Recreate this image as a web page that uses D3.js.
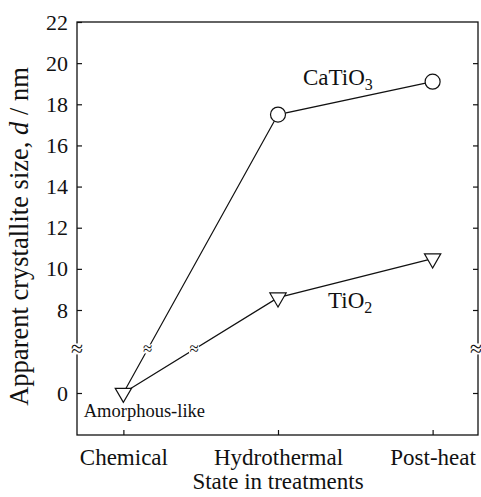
<!DOCTYPE html>
<html>
<head>
<meta charset="utf-8">
<script src="https://cdn.jsdelivr.net/npm/d3@7"></script>
<style>
  body { margin: 0; background: #fff; }
</style>
</head>
<body>
<script>
// treatment stages (x categories)
var stages = ["Chemical", "Hydrothermal", "Post-heat"]
// apparent crystallite size d / nm, 0 = amorphous-like
var catio3Size = [0, 17.5, 19.1]
var tio2Size = [0, 8.6, 10.5]
var yTicks = [0, 8, 10, 12, 14, 16, 18, 20, 22]
var breakAt = 4.2   // where the axis is broken, in data units

var FONT = "'Liberation Serif', 'Times New Roman', Times, serif"
var width = 481, height = 497
var margin = {left: 77, right: 2, top: 22, bottom: 62}

var svg = d3.select("body").append("svg")
	.attr("width", width)
	.attr("height", height)
	.attr("font-family", FONT)

var x = d3.scalePoint()
	.domain(stages)
	.range([margin.left, width - margin.right])
	.padding(0.3)

// broken axis: 0..8 squeezed, 8..22 linear
var y = d3.scaleLinear()
	.domain([0, 8, 22])
	.range([393, 310, margin.top])

var bottomY = height - margin.bottom

// frame
svg.append("rect")
	.attr("x", margin.left)
	.attr("y", margin.top)
	.attr("width", width - margin.left - margin.right - 1)
	.attr("height", bottomY - margin.top)
	.attr("fill", "none")
	.attr("stroke", "#111")
	.attr("stroke-width", 1.3)

var left = svg.append("g")
	.attr("transform", "translate(" + margin.left + ",0)")
	.call(d3.axisLeft(y).tickValues(yTicks).tickSizeInner(-5).tickSizeOuter(0).tickPadding(9))
left.select(".domain").remove()

var right = svg.append("g")
	.attr("transform", "translate(" + (width - margin.right - 1) + ",0)")
	.call(d3.axisRight(y).tickValues(yTicks.slice(0, -1)).tickSizeInner(-5).tickSizeOuter(0).tickFormat(""))
right.select(".domain").remove()

var bottom = svg.append("g")
	.attr("transform", "translate(0," + bottomY + ")")
	.call(d3.axisBottom(x).tickSizeInner(-5).tickSizeOuter(0).tickPadding(14))
bottom.select(".domain").remove()

svg.selectAll("g").attr("font-family", FONT)
left.selectAll("text").attr("font-size", 22).attr("fill", "#111")
bottom.selectAll("text").attr("font-size", 23).attr("fill", "#111")
svg.selectAll(".tick line").attr("stroke", "#111").attr("stroke-width", 1.2)

// axis break marks
var breakY = y(breakAt)
;[margin.left, width - margin.right - 3].forEach(function (bx) {
	svg.append("rect").attr("x", bx - 5).attr("y", breakY - 6).attr("width", 10).attr("height", 11).attr("fill", "#fff")
	svg.append("text").attr("x", bx).attr("y", breakY + 7)
		.attr("text-anchor", "middle").attr("font-size", 22).attr("fill", "#111").text("\u2248")
})

// axis titles
svg.append("text")
	.attr("x", (margin.left + width - margin.right) / 2)
	.attr("y", 489)
	.attr("text-anchor", "middle")
	.attr("font-size", 23)
	.attr("fill", "#111")
	.text("State in treatments")

var yt = svg.append("text")
	.attr("transform", "translate(28," + ((margin.top + bottomY) / 2 + 8) + ") rotate(-90)")
	.attr("text-anchor", "middle")
	.attr("font-size", 26.5)
	.attr("fill", "#111")
yt.append("tspan").text("Apparent crystallite size, ")
yt.append("tspan").attr("font-style", "italic").text("d")
yt.append("tspan").text(" / nm")

// series
var series = [
	{name: "CaTiO3", values: catio3Size},
	{name: "TiO2", values: tio2Size}
]

var line = d3.line()
	.x(function (d, i) { return x(stages[i]) })
	.y(function (d) { return y(d) })

series.forEach(function (s) {
	svg.append("path")
		.datum(s.values)
		.attr("d", line)
		.attr("fill", "none")
		.attr("stroke", "#111")
		.attr("stroke-width", 1.2)

	// break sign where the first segment crosses the broken part
	var x0 = x(stages[0]), y0 = y(s.values[0])
	var x1 = x(stages[1]), y1 = y(s.values[1])
	var t = (breakY - y0) / (y1 - y0)
	var bx = x0 + t * (x1 - x0)
	svg.append("rect").attr("x", bx - 5).attr("y", breakY - 5).attr("width", 10).attr("height", 9).attr("fill", "#fff")
	svg.append("text").attr("x", bx).attr("y", breakY + 5)
		.attr("text-anchor", "middle").attr("font-size", 17).attr("fill", "#111").text("\u2248")
})

// markers: CaTiO3 only where crystalline, TiO2 everywhere
svg.selectAll("circle.ca")
	.data(catio3Size.map(function (v, i) { return {v: v, i: i} }).filter(function (d) { return d.v > 0 }))
	.enter().append("circle")
	.attr("class", "ca")
	.attr("cx", function (d) { return x(stages[d.i]) })
	.attr("cy", function (d) { return y(d.v) })
	.attr("r", 7.5)
	.attr("fill", "#fff")
	.attr("stroke", "#111")
	.attr("stroke-width", 1.2)

svg.selectAll("path.ti")
	.data(tio2Size)
	.enter().append("path")
	.attr("class", "ti")
	.attr("d", d3.symbol(d3.symbolTriangle, 115))
	.attr("transform", function (d, i) { return "translate(" + x(stages[i]) + "," + y(d) + ") rotate(180)" })
	.attr("fill", "#fff")
	.attr("stroke", "#111")
	.attr("stroke-width", 1.2)

// labels
var ca = svg.append("text").attr("x", 303).attr("y", 85).attr("font-size", 23).attr("fill", "#111")
ca.append("tspan").text("CaTiO")
ca.append("tspan").attr("dy", 5).attr("font-size", 16).text("3")

var ti = svg.append("text").attr("x", 328).attr("y", 308).attr("font-size", 23).attr("fill", "#111")
ti.append("tspan").text("TiO")
ti.append("tspan").attr("dy", 5).attr("font-size", 16).text("2")

svg.append("text")
	.attr("x", x(stages[0]) + 21)
	.attr("y", 417)
	.attr("text-anchor", "middle")
	.attr("font-size", 18.5)
	.attr("fill", "#111")
	.text("Amorphous-like")
</script>
</body>
</html>
